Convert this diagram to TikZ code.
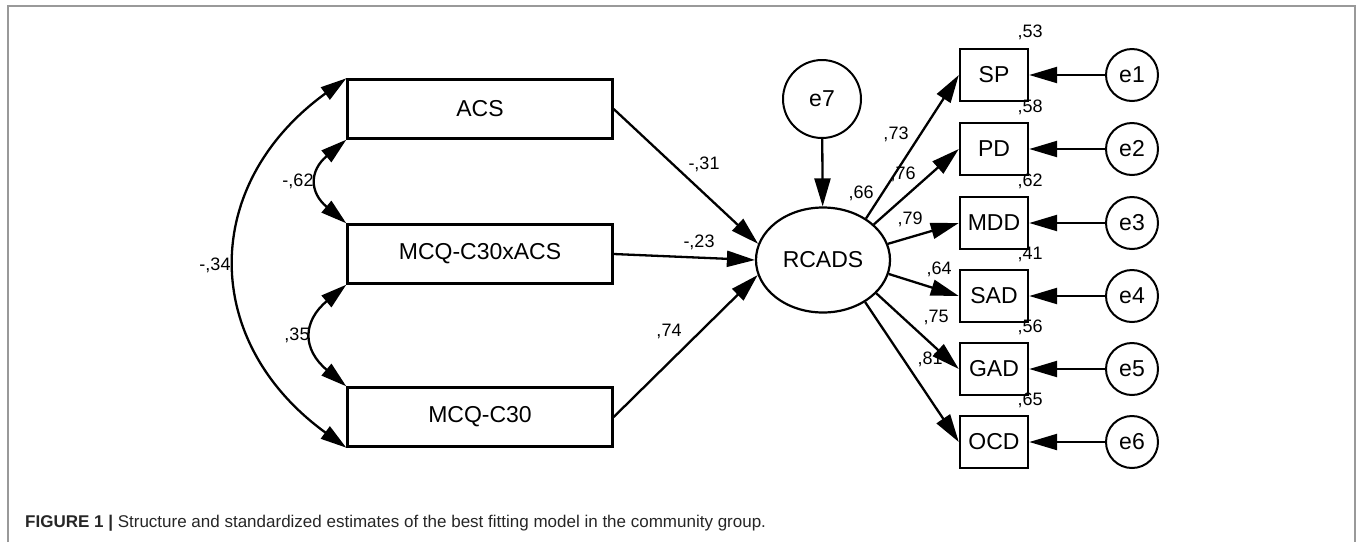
\documentclass[tikz,border=0pt]{standalone}
\usepackage{fontspec}
\setmainfont{Liberation Sans}
\usetikzlibrary{arrows.meta, shapes.geometric}

\begin{document}
\begin{tikzpicture}[x=1pt, y=-1pt,
  varbox/.style={draw, line width=2.4pt, minimum width=265pt, minimum height=59pt, inner sep=0pt, font=\fontsize{23}{26}\selectfont},
  indbox/.style={draw, line width=2.4pt, minimum width=68pt, minimum height=52pt, inner sep=0pt, font=\fontsize{23}{26}\selectfont},
  errnode/.style={draw, circle, line width=2pt, inner sep=0pt, font=\fontsize{23}{26}\selectfont},
  regarrow/.style={-{Triangle[length=28pt,width=16pt]}, line width=2.3pt},
  covarrow/.style={{Triangle[length=26pt,width=15pt]}-{Triangle[length=26pt,width=15pt]}, line width=2.3pt},
  lbl/.style={font=\fontsize{18}{20}\selectfont}]
\useasboundingbox (0,0) rectangle (1357,542);

% frame
\draw[gray!80, line width=2pt] (8,542) -- (8,6) -- (1355,6) -- (1355,542);

% predictors
\node[varbox] (acs) at (480,109) {ACS};
\node[varbox] (acsx) at (480,254) {MCQ-C30xACS};
\node[varbox] (mcq) at (480,417) {MCQ-C30};

% covariances
\draw[covarrow] (acs.north west) .. controls +(-146,106) and +(-146,-106) .. (mcq.south west);
\draw[covarrow] (acs.south west) .. controls +(-37,31) and +(-37,-31) .. (acsx.north west);
\draw[covarrow] (acsx.south west) .. controls +(-44,37) and +(-44,-37) .. (mcq.north west);
\node[lbl] at (215,265) {-,34};
\node[lbl] at (298,181) {-,62};
\node[lbl] at (297,335) {,35};

% outcome
\node[draw, ellipse, line width=2.2pt, minimum width=134pt, minimum height=105pt, inner sep=0pt, font=\fontsize{23}{26}\selectfont] (rcads) at (823,260) {RCADS};
\node[errnode, minimum size=78pt] (e7) at (822,99) {e7};
\draw[regarrow] (e7) -- (rcads);
\node[lbl] at (861,193) {,66};

\draw[regarrow] (acs.east) -- (rcads.166);
\draw[regarrow] (acsx.east) -- (rcads.west);
\draw[regarrow] (mcq.east) -- (rcads.193);
\node[lbl] at (704,164) {-,31};
\node[lbl] at (699,242) {-,23};
\node[lbl] at (669,331) {,74};

% indicators
\node[indbox] (sp) at (994,75) {SP};
\node[indbox] (pd) at (994,149) {PD};
\node[indbox] (mdd) at (994,223) {MDD};
\node[indbox] (sad) at (994,296) {SAD};
\node[indbox] (gad) at (994,369) {GAD};
\node[indbox] (ocd) at (994,442) {OCD};

\node[errnode, minimum size=52pt] (e1) at (1132,75) {e1};
\node[errnode, minimum size=52pt] (e2) at (1132,149) {e2};
\node[errnode, minimum size=52pt] (e3) at (1132,223) {e3};
\node[errnode, minimum size=52pt] (e4) at (1132,296) {e4};
\node[errnode, minimum size=52pt] (e5) at (1132,369) {e5};
\node[errnode, minimum size=52pt] (e6) at (1132,442) {e6};

\draw[regarrow] (rcads.44) -- (sp.west);
\draw[regarrow] (rcads.35) -- (pd.west);
\draw[regarrow] (rcads.14) -- (mdd.west);
\draw[regarrow] (rcads.-12) -- (sad.west);
\draw[regarrow] (rcads.-32) -- (gad.west);
\draw[regarrow] (rcads.-45) -- (ocd.west);

\draw[regarrow] (e1) -- (sp);
\draw[regarrow] (e2) -- (pd);
\draw[regarrow] (e3) -- (mdd);
\draw[regarrow] (e4) -- (sad);
\draw[regarrow] (e5) -- (gad);
\draw[regarrow] (e6) -- (ocd);

% loadings
\node[lbl] at (896,134) {,73};
\node[lbl] at (903,174) {,76};
\node[lbl] at (910,219) {,79};
\node[lbl] at (939,269) {,64};
\node[lbl] at (936,317) {,75};
\node[lbl] at (930,359) {,81};

% squared multiple correlations
\node[lbl] at (1030,32) {,53};
\node[lbl] at (1030,107) {,58};
\node[lbl] at (1030,181) {,62};
\node[lbl] at (1030,254) {,41};
\node[lbl] at (1030,327) {,56};
\node[lbl] at (1030,400) {,65};

% caption
\node[anchor=base west, inner sep=0pt, font=\fontsize{17}{19}\selectfont, text=black!85] (cap) at (25,527)
  {\textbf{FIGURE 1 |} Structure and standardized estimates of the best fitting model in the community group.};
\end{tikzpicture}
\end{document}
